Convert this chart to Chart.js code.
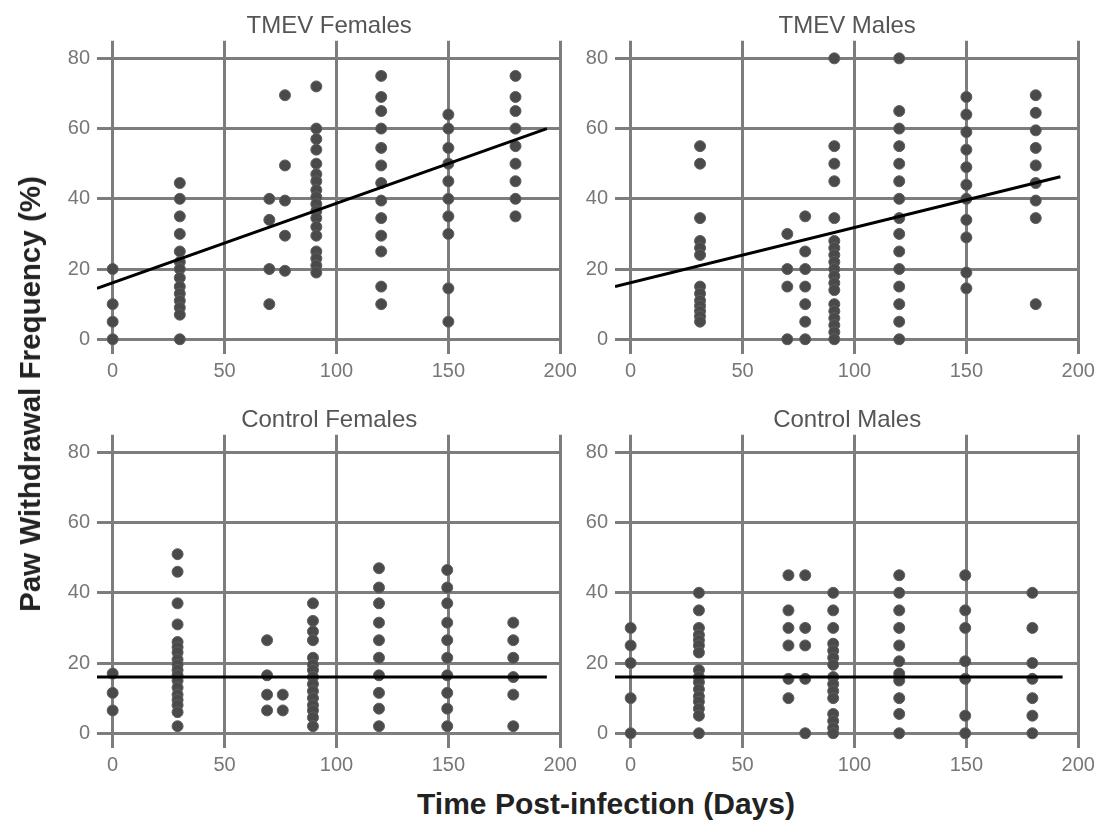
<!DOCTYPE html>
<html>
<head>
<meta charset="utf-8">
<script src="https://cdn.jsdelivr.net/npm/chart.js@4.4.0/dist/chart.umd.min.js"></script>
<style>
  body { margin: 0; background: #fff; }
  #fig { position: relative; width: 1103px; height: 825px; font-family: "Liberation Sans", Arial, sans-serif; }
  #fig canvas { position: absolute; }
  .ylab { position: absolute; left: 30px; top: 394px; transform: translate(-50%, -50%) rotate(-90deg);
          font-weight: bold; font-size: 29.5px; color: #222; white-space: nowrap; }
  .xlab { position: absolute; left: 606px; top: 804px; transform: translate(-50%, -50%);
          font-weight: bold; font-size: 30px; color: #222; white-space: nowrap; }
</style>
</head>
<body>
<div id="fig">
  <canvas id="tmevF" width="545" height="392" style="left:37px; top:0px;"></canvas>
  <canvas id="tmevM" width="545" height="392" style="left:555px; top:0px;"></canvas>
  <canvas id="ctrlF" width="545" height="392" style="left:37px; top:394px;"></canvas>
  <canvas id="ctrlM" width="545" height="392" style="left:555px; top:394px;"></canvas>
  <div class="ylab">Paw Withdrawal Frequency (%)</div>
  <div class="xlab">Time Post-infection (Days)</div>
</div>
<script>
// TMEV females: days and the values at each day
const tfDays = [0, 30, 70, 77, 91, 120, 150, 180];
const tfFreq = [
  [20, 10, 5, 0],
  [44.5, 40, 35, 30, 25, 22, 20, 17.5, 15, 13, 11, 9, 7, 0],
  [40, 34, 20, 10],
  [69.5, 49.5, 39.5, 29.5, 19.5],
  [72, 60, 57, 54, 50, 47, 45, 42.5, 40.5, 38.5, 36.5, 34.5, 32, 29.5, 25, 23, 21, 19],
  [75, 69, 65, 60, 54.5, 49.5, 44.5, 39.5, 34.5, 29.5, 25, 15, 10],
  [64, 60, 54.5, 50, 45, 40, 35, 30, 14.5, 5],
  [75, 69, 65, 60, 55, 50, 45, 40, 35]
];
const tfFitX = [-7, 194];
const tfFitY = [14.5, 60];

// TMEV males
const tmDays = [31, 70, 78, 91, 120, 150, 181];
const tmFreq = [
  [55, 50, 34.5, 28, 26, 24, 15, 13, 11, 9.5, 8, 6.5, 5],
  [30, 20, 15, 0],
  [35, 25, 20, 15, 10, 5, 0],
  [80, 55, 50, 45, 34.5, 28, 26, 24, 22, 20, 18, 16, 14, 10, 8, 6, 4, 2, 0],
  [80, 65, 60, 55, 50, 45, 40, 34.5, 30, 25, 20, 15, 10, 5, 0],
  [69, 64, 59, 54, 49, 44, 40, 34, 29, 19, 14.5],
  [69.5, 64.5, 59.5, 54.5, 49.5, 44.5, 39.5, 34.5, 10]
];
const tmFitX = [-7, 192];
const tmFitY = [15, 46.3];

// Control females
const cfDays = [0, 29, 69, 76, 89.5, 119, 149.5, 179];
const cfFreq = [
  [17, 11.5, 6.5],
  [51, 46, 37, 31, 26, 24.5, 23, 21, 19.5, 18, 16.5, 15, 13, 11, 9.5, 8, 6, 2],
  [26.5, 16.5, 11, 6.5],
  [11, 6.5],
  [37, 32, 29, 26.5, 21.5, 19.5, 18, 16, 14, 12, 10, 8, 6.5, 4.5, 2],
  [47, 41.5, 37, 31.5, 26.5, 21.5, 16.5, 11.5, 7, 2],
  [46.5, 41.5, 37, 31.5, 26.5, 21.5, 16.5, 11.5, 7, 2],
  [31.5, 26.5, 21.5, 16, 11, 2]
];
const cfFitX = [-7, 194];
const cfFitY = [16, 16];

// Control males
const cmDays = [0, 30.5, 70.5, 78, 90.5, 120, 149.5, 179.5];
const cmFreq = [
  [30, 25, 20, 10, 0],
  [40, 35, 30, 28, 26.5, 25, 23, 18, 16, 14.5, 12.5, 10.5, 9, 7, 5, 0],
  [45, 35, 30, 25, 15.5, 10],
  [45, 30, 25, 15.5, 0],
  [40, 35, 30, 25.5, 23.5, 21.5, 19.5, 16, 14, 12, 10, 5.5, 3.5, 1.5, 0],
  [45, 40, 35, 30, 25, 20.5, 17, 15, 10, 5.5, 0],
  [45, 35, 30, 20.5, 15.5, 5, 0],
  [40, 30, 20, 15.5, 10, 5, 0]
];
const cmFitX = [-7, 193];
const cmFitY = [16, 16];

const FONT = '"Liberation Sans", Arial, sans-serif';
const gridColor = '#7d7d7d';

function toPoints(days, freq) {
  let pts = [];
  days.forEach((d, i) => {
    freq[i].forEach(v => pts.push({ x: d, y: v }));
  });
  return pts;
}

function drawPanel(id, title, days, freq, fitX, fitY) {
  const ctx = document.getElementById(id).getContext('2d');
  new Chart(ctx, {
    type: 'scatter',
    data: {
      datasets: [
        {
          type: 'line',
          data: fitX.map((x, i) => ({ x: x, y: fitY[i] })),
          borderColor: '#000',
          borderWidth: 3,
          pointRadius: 0,
          fill: false
        },
        {
          data: toPoints(days, freq),
          backgroundColor: '#4a4a4a',
          borderColor: '#5e5e5e',
          borderWidth: 1,
          pointRadius: 5.5
        }
      ]
    },
    options: {
      responsive: false,
      animation: false,
      layout: { padding: { right: 18 } },
      plugins: {
        legend: { display: false },
        tooltip: { enabled: false },
        title: {
          display: true,
          text: title,
          fullSize: false,
          color: '#555',
          font: { size: 24, family: FONT, weight: 'normal' },
          padding: { top: 12, bottom: 0 }
        }
      },
      scales: {
        x: {
          type: 'linear',
          min: -7,
          max: 200.5,
          ticks: { stepSize: 50, includeBounds: false, color: '#777', font: { size: 20, family: FONT }, padding: 5 },
          grid: { color: gridColor, lineWidth: 3, drawTicks: false },
          border: { display: false },
          afterFit: s => { s.height = 38; }
        },
        y: {
          min: -4.2,
          max: 85,
          ticks: { stepSize: 20, includeBounds: false, color: '#777', font: { size: 20, family: FONT }, padding: 7 },
          grid: { color: gridColor, lineWidth: 3, drawTicks: false },
          border: { display: false },
          afterFit: s => { s.width = 60; }
        }
      }
    }
  });
}

drawPanel('tmevF', 'TMEV Females', tfDays, tfFreq, tfFitX, tfFitY);
drawPanel('tmevM', 'TMEV Males', tmDays, tmFreq, tmFitX, tmFitY);
drawPanel('ctrlF', 'Control Females', cfDays, cfFreq, cfFitX, cfFitY);
drawPanel('ctrlM', 'Control Males', cmDays, cmFreq, cmFitX, cmFitY);
</script>
</body>
</html>
